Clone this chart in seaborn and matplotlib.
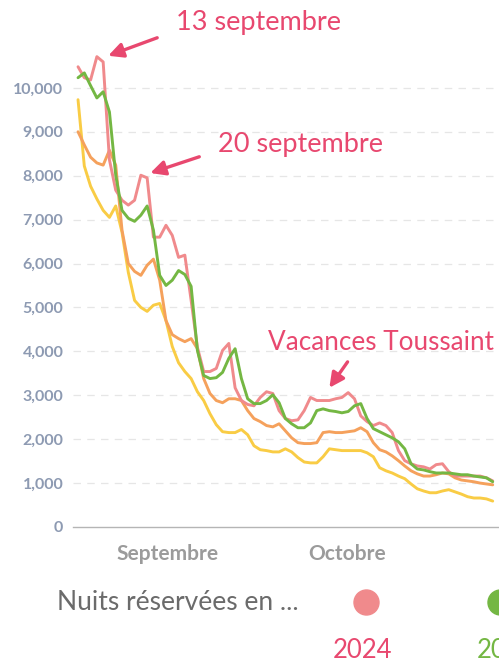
import numpy as np
import pandas as pd
import matplotlib
matplotlib.use("Agg")
import matplotlib.pyplot as plt
import seaborn as sns
from matplotlib.lines import Line2D

# ---------------- data ----------------
years = ["2021", "2022", "2024", "2023"]  # drawing order (last on top)
colors = {"2024": "#f08a8c", "2023": "#74b743", "2022": "#f5a15c", "2021": "#f9cc45"}

nights_2024 = [10480, 10230, 10180, 10710, 10590, 8360, 7670, 7440, 7330, 7440,
               8010, 7950, 6600, 6600, 6870, 6640, 6140, 6190, 5160, 4090,
               3540, 3540, 3610, 4020, 4180, 3170, 2880, 2790, 2760, 2950,
               3080, 3040, 2650, 2470, 2420, 2440, 2650, 2950, 2880, 2880,
               2880, 2920, 2950, 3060, 2920, 2530, 2400, 2310, 2370, 2310,
               2150, 1740, 1510, 1440, 1390, 1370, 1320, 1420, 1440, 1260,
               1160, 1160, 1160, 1160, 1160, 1120, 1050]
nights_2023 = [10230, 10340, 10050, 9770, 9910, 9450, 8010, 7210, 7030, 6960,
               7100, 7310, 6760, 5730, 5500, 5620, 5840, 5750, 5480, 4020,
               3450, 3380, 3400, 3520, 3840, 4060, 3380, 2920, 2810, 2810,
               2880, 3010, 2830, 2470, 2350, 2260, 2260, 2370, 2650, 2690,
               2650, 2630, 2600, 2630, 2760, 2810, 2470, 2240, 2170, 2100,
               2030, 1940, 1780, 1440, 1320, 1300, 1260, 1230, 1230, 1230,
               1210, 1190, 1190, 1160, 1140, 1120, 1030]
nights_2022 = [9000, 8700, 8420, 8290, 8240, 8580, 8240, 6760, 6000, 5820,
               5730, 5960, 6100, 5620, 4700, 4380, 4290, 4220, 4290, 4060,
               3380, 3040, 2880, 2830, 2920, 2920, 2880, 2650, 2470, 2400,
               2310, 2280, 2350, 2190, 2030, 1920, 1900, 1900, 1920, 2150,
               2170, 2150, 2150, 2170, 2190, 2260, 2170, 1920, 1760, 1710,
               1620, 1510, 1390, 1280, 1210, 1160, 1160, 1190, 1230, 1210,
               1120, 1070, 1050, 1030, 1000, 980, 960]
nights_2021 = [9730, 8220, 7760, 7470, 7210, 7050, 7310, 6710, 5800, 5160,
               5000, 4910, 5050, 5090, 4700, 4110, 3740, 3540, 3380, 3080,
               2880, 2580, 2330, 2170, 2150, 2150, 2220, 2100, 1850, 1760,
               1740, 1710, 1710, 1780, 1710, 1580, 1480, 1460, 1460, 1600,
               1780, 1760, 1740, 1740, 1740, 1740, 1690, 1600, 1350, 1280,
               1230, 1160, 1100, 980, 870, 820, 780, 780, 820, 850,
               800, 750, 690, 660, 660, 640, 590]

series = {"2024": nights_2024, "2023": nights_2023, "2022": nights_2022, "2021": nights_2021}

y_ticks = [0, 1000, 2000, 3000, 4000, 5000, 6000, 7000, 8000, 9000, 10000]
y_tick_labels = ["0", "1,000", "2,000", "3,000", "4,000", "5,000", "6,000",
                 "7,000", "8,000", "9,000", "10,000"]
x_tick_labels = ["Septembre", "Octobre"]
x_tick_pos = [14.3, 42.9]

annotations = [
    ("13 septembre", (4.8, 10730), (12.6, 11140), (15.6, 11480), 19.5),
    ("20 septembre", (11.5, 8060), (19.3, 8430), (22.3, 8700), 19.5),
    ("Vacances Toussaint", (40.0, 3170), (42.9, 3760), (30.3, 4190), 18.8),
]

legend_title = "Nuits réservées en ..."
legend_years = ["2024", "2023"]

# ---------------- frame ----------------
rows = []
for yr, vals in series.items():
    for i, v in enumerate(vals):
        rows.append({"day": i, "nuits": v, "annee": yr})
df = pd.DataFrame(rows)

sns.set_theme(style="white")
plt.rcParams["font.family"] = ["Lato", "DejaVu Sans"]

fig = plt.figure(figsize=(4.99, 6.64), dpi=100)
ax = fig.add_axes([73 / 499, (664 - 527) / 664, 1 - 73 / 499, 527 / 664])

sns.lineplot(data=df, x="day", y="nuits", hue="annee", hue_order=years,
             palette=colors, linewidth=2.1, ax=ax, legend=False)

ax.set_xlim(-0.8, 67.0)
ax.set_ylim(0, 12000)

ax.set_yticks(y_ticks)
ax.set_yticklabels(y_tick_labels, fontsize=11.5, fontweight="bold", color="#8d9ab2")
ax.set_xticks(x_tick_pos)
ax.set_xticklabels(x_tick_labels, fontsize=15, fontweight="bold", color="#9b9b9b")
ax.tick_params(axis="y", length=0, pad=7)
ax.tick_params(axis="x", length=0, pad=12)
ax.set_xlabel("")
ax.set_ylabel("")

for t in y_ticks[1:]:
    ax.axhline(t, color="#e6e6e6", lw=0.9, ls=(0, (6, 5)), zorder=0)

for s in ["top", "right", "left"]:
    ax.spines[s].set_visible(False)
ax.spines["bottom"].set_color("#b5b5b5")
ax.spines["bottom"].set_linewidth(1.0)

pink = "#e8486f"
for text, head, tail, tpos, fs in annotations:
    ax.annotate("", xy=head, xytext=tail,
                arrowprops=dict(arrowstyle="-|>", color=pink, lw=2.4,
                                mutation_scale=22, shrinkA=0, shrinkB=0),
                annotation_clip=False)
    ax.text(tpos[0], tpos[1], text, color=pink, fontsize=fs,
            va="center", ha="left", clip_on=False)

# ---------------- legend ----------------
fig.text(57 / 499, 1 - 602 / 664, legend_title, fontsize=19, color="#6b6b6b",
         va="center", ha="left")
leg_x = [366, 500]
leg_text_left = [333, 477]
for yr, lx, tx in zip(legend_years, leg_x, leg_text_left):
    fig.add_artist(Line2D([lx / 499], [1 - 602 / 664], marker="o", markersize=18,
                          color=colors[yr], linestyle="none",
                          transform=fig.transFigure))
    fig.text(tx / 499, 1 - 651 / 664, yr, fontsize=18.5,
             color=(pink if yr == "2024" else colors[yr]), va="center", ha="left")

fig.savefig("out.png", dpi=100)
